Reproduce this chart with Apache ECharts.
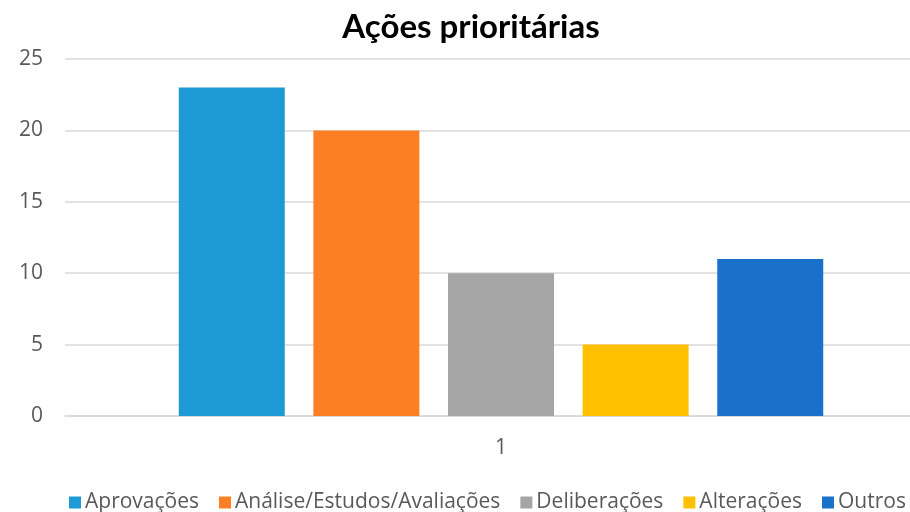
<!DOCTYPE html>
<html>
<head>
<meta charset="utf-8">
<script src="https://cdn.jsdelivr.net/npm/echarts@6/dist/echarts.min.js"></script>
<style>
  html, body { margin: 0; padding: 0; background: #fff; overflow: hidden; }
  #chart { width: 937px; height: 512px; }
</style>
</head>
<body>
<div id="chart"></div>
<script>
const categories = ['1']
const seriesNames = ['Aprovações', 'Análise/Estudos/Avaliações', 'Deliberações', 'Alterações', 'Outros']
const seriesValues = [[23], [20], [10], [5], [11]]
const seriesColors = ['#1E9AD6', '#FD7F23', '#A5A5A5', '#FFC000', '#1A71C9']
const yTicks = { min: 0, max: 25, interval: 5 }

const chart = echarts.init(document.getElementById('chart'))
const font = "'Open Sans', sans-serif"

const option = {
  backgroundColor: '#fff',
  animation: false,
  color: seriesColors,
  title: {
    text: 'Ações prioritárias',
    left: 466, top: 6, textAlign: 'center',
    textStyle: { fontFamily: 'Lato, sans-serif', fontWeight: 'bold', fontSize: 33, color: '#000' }
  },
  legend: {
    data: seriesNames,
    left: 64, top: 487,
    icon: 'rect', itemWidth: 12, itemHeight: 12, itemGap: 20,
    textStyle: { fontFamily: font, fontSize: 21, color: '#595959', padding: [0, 0, 0, -1] }
  },
  grid: { left: 65, top: 59, right: 0, height: 357 },
  xAxis: {
    type: 'category',
    data: categories,
    axisLine: { lineStyle: { color: '#D9D9D9', width: 1.5 } },
    axisTick: { show: false },
    axisLabel: { color: '#595959', fontFamily: font, fontSize: 21, margin: 22 }
  },
  yAxis: {
    type: 'value',
    min: yTicks.min, max: yTicks.max, interval: yTicks.interval,
    axisLine: { show: false },
    axisTick: { show: false },
    axisLabel: { color: '#595959', fontFamily: font, fontSize: 21, margin: 22 },
    splitLine: { lineStyle: { color: '#D9D9D9', width: 1.5 } }
  },
  series: seriesNames.map((name, i) => ({
    name, type: 'bar',
    data: seriesValues[i],
    barWidth: 106,
    barGap: '27%',
    itemStyle: { color: seriesColors[i] }
  }))
}
chart.setOption(option)
window.addEventListener('resize', () => chart.resize())
</script>
</body>
</html>
